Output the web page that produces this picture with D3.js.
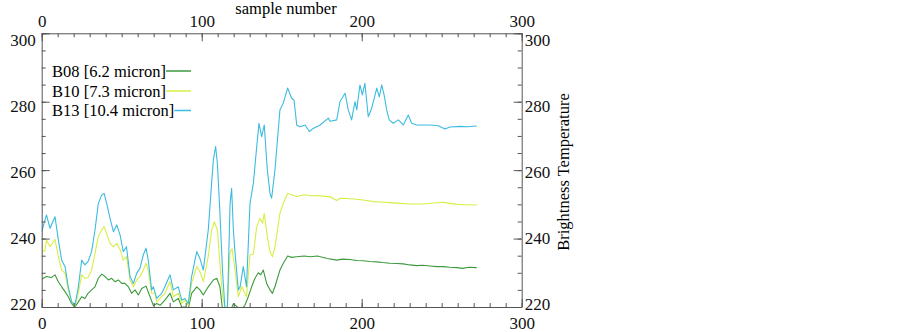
<!DOCTYPE html>
<html>
<head>
<meta charset="utf-8">
<script src="https://cdn.jsdelivr.net/npm/d3@7"></script>
<style>
  body { margin: 0; background: #fff; }
  svg { display: block; font-family: "Liberation Serif", "Times New Roman", serif; }
  .axis path, .axis line { stroke: #555; }
  .axis text { fill: #111; }
</style>
</head>
<body>
<svg id="chart"></svg>
<script>
(function () {
    'use strict';

    const width = 903;
    const height = 332;

    // [sample number, brightness temperature]
    const b08 = [
        [0, 228.1], [3, 228.9], [6, 228.6], [8.3, 229.4], [10.4, 227.4], [12.5, 225.9], [14.6, 224.5],
        [16.6, 223], [18.7, 221], [20.8, 220], [22.9, 221.5], [25, 223], [27, 222.5], [29, 224],
        [31.2, 225], [33.3, 225.9], [35.4, 228.4], [37.5, 229.6], [39.6, 228.9], [41.7, 227.9],
        [43.7, 228.4], [45.8, 227.4], [47.9, 227.9], [50, 226.9], [52, 226.9], [54.2, 225.9],
        [56.2, 224], [58.3, 225], [60.4, 223.5], [62.5, 225.4], [65.2, 226.1], [67.7, 223],
        [69.8, 220.4], [71.9, 221], [74, 220.5], [77, 222], [80.2, 224], [82.3, 221.5], [85.4, 222.5],
        [87.5, 220], [89.6, 220], [91.6, 219.5], [93.7, 224], [96.9, 225.9], [98.9, 225], [101, 223.5],
        [104.1, 225.9], [107.3, 227.9], [109.4, 228.4], [111.4, 225.9], [113.1, 219], [114.6, 218],
        [117.7, 218.5], [119.8, 221], [122.3, 220], [125, 219.5], [127, 220.5], [129.1, 223],
        [131.2, 225.9], [133.3, 228.4], [135.4, 230], [136.9, 229.4], [138.5, 230.8], [140.6, 226.9],
        [142.7, 225], [144.2, 224], [145.8, 226], [148.9, 230.8], [151, 232.8], [153.7, 234.9],
        [156.2, 234.5], [159.4, 234.7], [164, 234.9], [168, 234.7], [172.3, 234.9], [178.5, 234.2],
        [184.4, 233.7], [188, 234], [192.7, 233.9], [197, 233.6], [201, 233.5], [205, 233.3],
        [209.4, 233.2], [213, 233], [217.7, 232.8], [222, 232.7], [226, 232.6], [230, 232.3],
        [234.4, 232.1], [238, 232.2], [242.7, 232], [247, 231.8], [251, 231.8], [255, 231.6],
        [259.4, 231.5], [263, 231.3], [267, 231.6], [271.9, 231.5]
    ];

    const b10 = [
        [0, 236.2], [2, 236.4], [3, 239.6], [5.2, 237.6], [8.3, 239.8], [10.4, 234.7], [12.5, 230.8],
        [14.6, 229.9], [16.6, 225], [18.7, 221.5], [20.8, 220.3], [22.9, 224], [25, 229.4], [27, 228.4],
        [29, 228.6], [31.2, 230.8], [33.3, 235.7], [35.4, 240.6], [37.5, 242.5], [39, 243.5],
        [40.6, 241.5], [42.7, 238.6], [44.8, 237.6], [46.9, 238.6], [49, 236.7], [51, 233.7],
        [53, 234.7], [55.2, 227.9], [57.3, 225.9], [59.4, 227.9], [61.4, 228.9], [63.5, 230.8],
        [65.2, 232.8], [66.6, 230.8], [68.7, 224], [70.8, 224], [71.9, 221.5], [75, 223], [77, 224],
        [80.2, 227.4], [82.3, 223], [85.4, 224], [87.5, 221], [89.6, 222], [91.6, 220.5],
        [93.7, 226.9], [96.9, 231.8], [98.9, 230.3], [101, 227.4], [104.1, 234.7], [106.2, 242.5],
        [107.9, 244.9], [109.8, 242.5], [111.4, 232.8], [113.1, 223], [114.6, 220], [116, 220],
        [117.7, 236], [119, 237], [120.8, 230.8], [122.9, 223], [125, 226], [128, 223],
        [130.2, 235.2], [132.3, 235.5], [134.4, 243.5], [136.5, 245.9], [138, 244.5], [139.1, 247.4],
        [141, 240.6], [142.7, 236.2], [144.2, 234.7], [145.8, 237.6], [148.9, 247.4], [151, 250.3],
        [153.7, 253.2], [156.2, 252.8], [159.4, 252.3], [164, 252.8], [168, 252.5], [172.3, 252.6],
        [176, 252.4], [180.2, 252.2], [184.4, 251.1], [186.4, 251.8], [191, 251.7], [196.9, 251.5],
        [202, 251.2], [207.3, 250.8], [212, 250.7], [217.7, 250.5], [224, 250.3], [230.2, 250.1],
        [238.5, 250.1], [245, 250.4], [251, 250.6], [255, 250.3], [259.4, 250], [265, 249.9],
        [271.9, 249.8]
    ];

    const b13 = [
        [0, 242], [1.5, 244.5], [3, 246.9], [5.2, 243], [8.3, 246.4], [10.4, 239.6], [12.5, 233.7],
        [14.6, 231.8], [16.6, 225.9], [18.7, 221.5], [20.8, 220.6], [22.9, 225.9], [25, 233.7],
        [27, 232.3], [29, 233.3], [31.2, 236.2], [33.3, 242.5], [35.4, 250.3], [37.5, 252.7],
        [39, 253.2], [40.6, 250.3], [42.7, 245.9], [44.8, 242], [46.9, 244], [49, 241], [51, 236.2],
        [53, 237.6], [55.2, 228.9], [57.3, 226.9], [59.4, 229.9], [61.4, 231.3], [63.5, 235.2],
        [65.2, 237.2], [66.6, 233.7], [68.7, 225], [69.8, 225.9], [71.9, 222.5], [75, 224],
        [77, 225.9], [80.2, 229.4], [82.3, 225], [85.4, 225.9], [87.5, 222], [89.6, 222.5],
        [91.6, 221], [93.7, 228.9], [96.9, 236.2], [98.9, 234.2], [101, 230.8], [104.1, 242.5],
        [106.2, 256.2], [107.3, 263], [108.7, 266.9], [109.8, 262], [111.4, 247.4], [113.1, 229.9],
        [114.6, 219], [116, 218], [117.7, 250], [118.7, 254.7], [119.8, 242.5], [120.8, 236],
        [122.9, 225], [124, 225.9], [126, 231.8], [128, 225.9], [130.2, 250.3], [132.3, 256.2],
        [134.4, 266.9], [135.8, 273.7], [137.5, 269.8], [139.1, 273.2], [141, 260.1], [142.7, 253.2],
        [143.7, 251.8], [145.8, 260.1], [148.9, 277.6], [151, 279.6], [153.7, 284], [156.2, 281],
        [157.7, 280.5], [159.4, 273.2], [161.4, 272.7], [164.6, 273.2], [167.3, 271.3],
        [169.7, 272.2], [174, 273.2], [179.1, 275.2], [180.2, 274.3], [184.4, 274.7], [186.4, 280],
        [189.6, 282.5], [191.6, 277.6], [193.7, 274.7], [195.8, 280], [196.9, 277.6], [198.9, 284.9],
        [200.4, 282], [202, 285.4], [204.1, 275.6], [206.2, 278], [209.4, 284], [211, 281.4],
        [212.5, 284.9], [214, 282], [215.6, 277.6], [217.2, 274.7], [219.7, 273.7], [222.9, 274.7],
        [226, 273.2], [229.1, 276.1], [231.2, 273.7], [234.4, 273.2], [242.7, 273.2], [247.9, 273],
        [252, 272], [255.2, 272.6], [261.4, 272.8], [266, 272.7], [271.9, 272.9]
    ];

    const series = [
        { name: 'B08 [6.2 micron]', data: b08, color: '#3c9a3c' },
        { name: 'B10 [7.3 micron]', data: b10, color: '#d8ee44' },
        { name: 'B13 [10.4 micron]', data: b13, color: '#3cbbe0' }
    ];

    const xDomain = [0, 300];
    const yDomain = [220, 300];
    const xTicks = [0, 100, 200, 300];
    const yTicks = [220, 240, 260, 280, 300];

    const margin = ({ top: 33.3, right: width - 521.7, bottom: height - 307, left: 41.7 });

    const x = d3.scaleLinear()
        .domain(xDomain)
        .range([margin.left, width - margin.right]);

    const y = d3.scaleLinear()
        .domain(yDomain)
        .range([height - margin.bottom, margin.top]);

    const svg = d3.select('#chart')
        .attr('width', width)
        .attr('height', height)
        .attr('viewBox', [0, 0, width, height]);

    svg.append('defs').append('clipPath').attr('id', 'plot-clip')
        .append('rect')
        .attr('x', margin.left).attr('y', margin.top)
        .attr('width', x(300) - x(0)).attr('height', y(220) - y(300));

    const line = d3.line()
        .x(d => x(d[0]))
        .y(d => y(d[1]));

    const plots = svg.append('g').attr('clip-path', 'url(#plot-clip)');
    plots.selectAll('path')
        .data(series)
        .join('path')
        .attr('fill', 'none')
        .attr('stroke', d => d.color)
        .attr('stroke-width', 1.1)
        .attr('stroke-linejoin', 'round')
        .attr('d', d => line(d.data));

    // minor ticks drawn as separate axes without labels
    const minorX = d3.range(0, 301, 10);
    const minorY = d3.range(220, 301, 5);

    const drawAxis = (axisFn, scale, major, minor, transform, labelPad) => {
        const g = svg.append('g').attr('class', 'axis').attr('transform', transform);
        g.call(axisFn(scale).tickValues(minor).tickSize(-4).tickFormat(''));
        g.select('.domain').remove();
        const gm = svg.append('g').attr('class', 'axis').attr('transform', transform);
        gm.call(axisFn(scale).tickValues(major).tickSize(-8).tickSizeOuter(0).tickPadding(labelPad));
        gm.attr('font-family', '"Liberation Serif", "Times New Roman", serif')
            .attr('font-size', 17);
        return gm;
    };

    drawAxis(d3.axisTop, x, xTicks, minorX, `translate(0,${y(300)})`, 6);
    drawAxis(d3.axisBottom, x, xTicks, minorX, `translate(0,${y(220)})`, 10);
    const left = drawAxis(d3.axisLeft, y, yTicks, minorY, `translate(${x(0)},0)`, 6);
    const right = drawAxis(d3.axisRight, y, yTicks, minorY, `translate(${x(300)},0)`, 3);

    // labels in the reference sit a little inside the tick span
    const labelY = d3.scaleLinear().domain(yDomain).range([-3, 6.5]);
    [left, right].forEach(g => g.selectAll('.tick text').attr('dy', '0.32em').attr('y', d => labelY(d)));

    svg.append('text')
        .attr('x', 286)
        .attr('y', 14)
        .attr('text-anchor', 'middle')
        .attr('font-size', 16.5)
        .text('sample number');

    svg.append('text')
        .attr('transform', `translate(569,172) rotate(-90)`)
        .attr('text-anchor', 'middle')
        .attr('font-size', 16.5)
        .text('Brightness Temperature');

    const legend = svg.append('g');
    const legendRows = [71, 91, 110.5];
    series.forEach((s, i) => {
        const t = legend.append('text')
            .attr('x', 52)
            .attr('y', legendRows[i])
            .attr('dy', '0.35em')
            .attr('font-size', 16.5)
            .text(s.name);
        const w = t.node().getComputedTextLength();
        legend.append('line')
            .attr('x1', 52 + w).attr('x2', 191)
            .attr('y1', legendRows[i]).attr('y2', legendRows[i])
            .attr('stroke', s.color)
            .attr('stroke-width', 1.5);
    });
})();
</script>
</body>
</html>
